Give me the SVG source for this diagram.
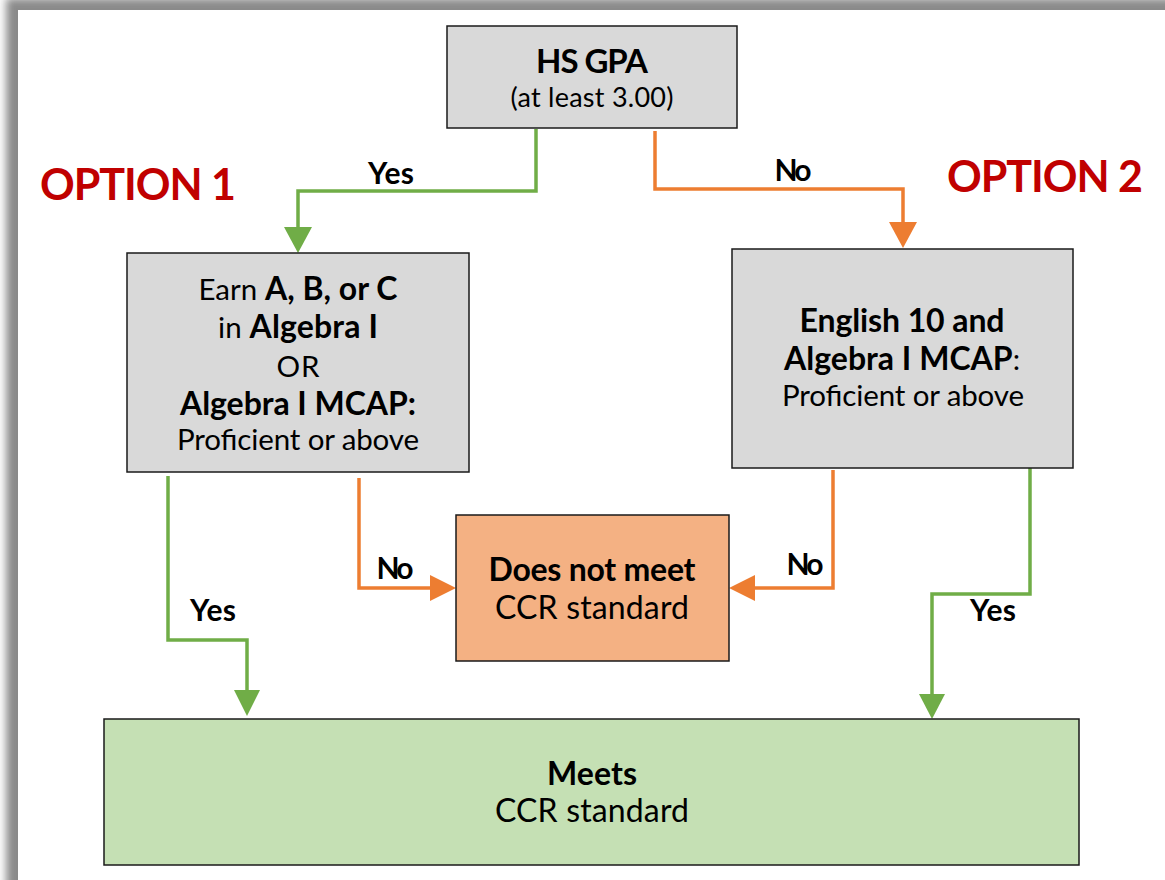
<svg xmlns="http://www.w3.org/2000/svg" width="1165" height="880" viewBox="0 0 1165 880">
<defs>
<filter id="blur" x="-5%" y="-5%" width="110%" height="110%"><feGaussianBlur stdDeviation="4"/></filter>
<style>
text{font-family:Lato,"Open Sans","Liberation Sans",sans-serif;fill:#000;text-anchor:middle}
.b{font-weight:bold}
.box{stroke:#1a1a1a;stroke-width:1.5}
.g{fill:#d9d9d9}
.lbl{font-size:30px;font-weight:bold}
.t{font-size:29.5px}
.t .b,.t.b{font-size:32px}
.big{font-size:32px}
.opt{font-size:43px;font-weight:bold;fill:#c00000;text-anchor:start}
.cg{fill:none;stroke:#70ad47;stroke-width:3.5}
.co{fill:none;stroke:#ed7d31;stroke-width:3.5}
.hg{fill:#70ad47}
.ho{fill:#ed7d31}
</style>
</defs>
<rect x="0" y="0" width="1165" height="880" fill="#ffffff"/>
<rect x="6" y="-2" width="1200" height="900" fill="#8a8a8a" filter="url(#blur)"/>
<rect x="18" y="10" width="1160" height="880" fill="#ffffff"/>

<g id="connectors">
<polyline class="cg" points="536,129 536,191 298,191 298,228"/>
<polygon class="hg" points="284,227 312,227 298,253"/>
<polyline class="co" points="655,131 655,189 903,189 903,223"/>
<polygon class="ho" points="889,222 917,222 903,248"/>
<polyline class="co" points="359,478 359,588 431,588"/>
<polygon class="ho" points="430,575 430,601 456,588"/>
<polyline class="co" points="833,470 833,588 755,588"/>
<polygon class="ho" points="755,575 755,601 729,588"/>
<polyline class="cg" points="168,476 168,640 247,640 247,691"/>
<polygon class="hg" points="234,690 260,690 247,716"/>
<polyline class="cg" points="1030,468 1030,594 932,594 932,695"/>
<polygon class="hg" points="919,694 945,694 932,719"/>
<text class="lbl" x="391" y="184" textLength="46">Yes</text>
<text class="lbl" x="793" y="181" textLength="37">No</text>
<text class="lbl" x="395" y="579" textLength="37">No</text>
<text class="lbl" x="805" y="575" textLength="37">No</text>
<text class="lbl" x="213" y="621" textLength="46">Yes</text>
<text class="lbl" x="993" y="621" textLength="46">Yes</text>
</g>

<g id="option1"><text class="opt" x="40" y="200" textLength="196">OPTION 1</text></g>
<g id="option2"><text class="opt" x="947" y="192" textLength="196">OPTION 2</text></g>

<g id="hsgpa">
<rect class="box g" x="447" y="26" width="290" height="102"/>
<text class="b" x="592" y="73" font-size="33" textLength="112">HS GPA</text>
<text x="592" y="107" font-size="27" textLength="163">(at least 3.00)</text>
</g>

<g id="option1box">
<rect class="box g" x="127" y="253" width="342" height="219"/>
<text class="t" x="298" y="300" textLength="199">Earn <tspan class="b">A, B, or C</tspan></text>
<text class="t" x="298" y="338" textLength="160">in <tspan class="b">Algebra I</tspan></text>
<text class="t" x="298" y="377" textLength="43">OR</text>
<text class="t b" x="298" y="415" textLength="236">Algebra I MCAP:</text>
<text class="t" x="298" y="450" textLength="242">Proficient or above</text>
</g>

<g id="option2box">
<rect class="box g" x="732" y="249" width="341" height="219"/>
<text class="t b" x="902" y="332" textLength="205">English 10 and</text>
<text class="t" x="902" y="370" textLength="236"><tspan class="b">Algebra I MCAP</tspan>:</text>
<text class="t" x="903" y="406" textLength="242">Proficient or above</text>
</g>

<g id="notmeet">
<rect class="box" x="456" y="515" width="273" height="146" fill="#f4b183"/>
<text class="big b" x="592" y="581" textLength="207">Does not meet</text>
<text class="big" x="592" y="619" textLength="194">CCR standard</text>
</g>

<g id="meets">
<rect class="box" x="104" y="719" width="975" height="146" fill="#c5e0b4"/>
<text class="big b" x="592" y="785" textLength="90">Meets</text>
<text class="big" x="592" y="822" textLength="194">CCR standard</text>
</g>
</svg>
